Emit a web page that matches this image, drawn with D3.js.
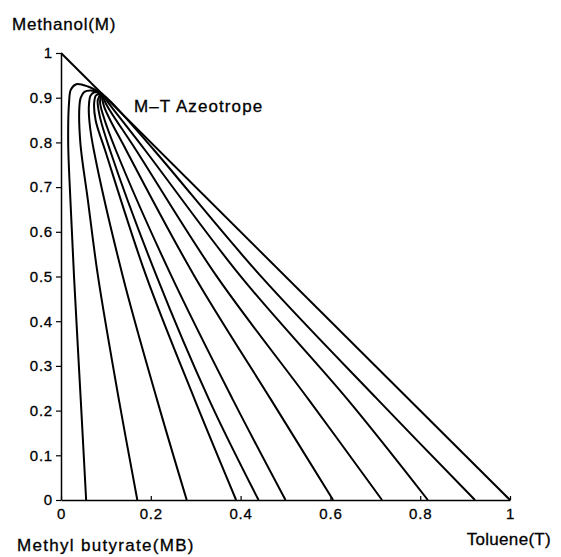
<!DOCTYPE html>
<html>
<head>
<meta charset="utf-8">
<script src="https://cdn.jsdelivr.net/npm/d3@7"></script>
<style>
  body { margin: 0; background: #fff; }
  svg text { font-family: "Liberation Sans", Arial, sans-serif; fill: #000; stroke: #000; stroke-width: 0.3px; }
</style>
</head>
<body>
<div id="chart"></div>
<script>
// tick values and labels
const xTicks = [0, 0.2, 0.4, 0.6, 0.8, 1];
const xTickLabels = ["0", "0.2", "0.4", "0.6", "0.8", "1"];
const yTicks = [0, 0.1, 0.2, 0.3, 0.4, 0.5, 0.6, 0.7, 0.8, 0.9, 1];
const yTickLabels = ["0", "0.1", "0.2", "0.3", "0.4", "0.5", "0.6", "0.7", "0.8", "0.9", "1"];

// residue curves, [toluene, methanol]
const curve1 = [[0.09, 0.91], [0.06, 0.925], [0.034, 0.93], [0.022, 0.918], [0.018, 0.89], [0.016, 0.80], [0.021, 0.67], [0.029, 0.50], [0.044, 0.224], [0.056, 0]];
const curve2 = [[0.09, 0.91], [0.066, 0.916], [0.052, 0.913], [0.044, 0.90], [0.041, 0.88], [0.043, 0.80], [0.060, 0.67], [0.082, 0.503], [0.129, 0.224], [0.17, 0]];
const curve3 = [[0.09, 0.91], [0.075, 0.912], [0.066, 0.905], [0.062, 0.88], [0.064, 0.84], [0.073, 0.783], [0.137, 0.503], [0.214, 0.224], [0.28, 0]];
const curve4 = [[0.09, 0.91], [0.078, 0.905], [0.074, 0.89], [0.077, 0.85], [0.098, 0.783], [0.189, 0.503], [0.298, 0.224], [0.39, 0]];
const curve5 = [[0.09, 0.91], [0.082, 0.895], [0.086, 0.86], [0.109, 0.783], [0.212, 0.503], [0.330, 0.224], [0.44, 0]];
const curve6 = [[0.09, 0.91], [0.087, 0.89], [0.094, 0.86], [0.122, 0.783], [0.245, 0.503], [0.383, 0.224], [0.50, 0]];
const curve7 = [[0.09, 0.91], [0.096, 0.88], [0.145, 0.783], [0.296, 0.503], [0.468, 0.224], [0.606, 0]];
const curve8 = [[0.09, 0.91], [0.101, 0.885], [0.167, 0.783], [0.345, 0.503], [0.552, 0.224], [0.715, 0]];
const curve9 = [[0.09, 0.91], [0.106, 0.888], [0.187, 0.783], [0.398, 0.503], [0.639, 0.224], [0.817, 0]];
const curve10 = [[0.09, 0.91], [0.112, 0.89], [0.207, 0.783], [0.443, 0.503], [0.706, 0.224], [0.922, 0]];
const curves = [curve1, curve2, curve3, curve4, curve5, curve6, curve7, curve8, curve9, curve10];

// M-T edge of the triangle
const edge = [[0, 1], [1, 0]];

const width = 561;
const height = 557;

var x = d3.scaleLinear().domain([0, 1]).range([61, 510]);
var y = d3.scaleLinear().domain([0, 1]).range([500, 53]);

var svg = d3
  .select("#chart")
  .append("svg")
  .attr("width", width)
  .attr("height", height);

// left axis, ticks outward
var yAxis = d3
  .axisLeft(y)
  .tickValues(yTicks)
  .tickFormat((d, i) => yTickLabels[i])
  .tickSizeInner(5)
  .tickSizeOuter(0)
  .tickPadding(3);

svg
  .append("g")
  .attr("transform", "translate(" + x(0) + ",0)")
  .call(yAxis)
  .call((g) => g.select(".domain").attr("stroke-width", 1.5))
  .call((g) => g.selectAll(".tick line").attr("stroke-width", 1.2))
  .call((g) =>
    g
      .selectAll(".tick text")
      .style("font-size", "15px")
      .style("letter-spacing", "0.8px")
  );

// bottom axis, ticks inward
var xAxis = d3
  .axisBottom(x)
  .tickValues(xTicks)
  .tickFormat((d, i) => xTickLabels[i])
  .tickSizeInner(-4)
  .tickSizeOuter(0)
  .tickPadding(8);

svg
  .append("g")
  .attr("transform", "translate(0," + y(0) + ")")
  .call(xAxis)
  .call((g) => g.select(".domain").attr("stroke-width", 1.5))
  .call((g) => g.selectAll(".tick line").attr("stroke-width", 1.2))
  .call((g) =>
    g
      .selectAll(".tick text")
      .style("font-size", "15px")
      .style("letter-spacing", "0.8px")
  );

var line = d3
  .line()
  .x((d) => x(d[0]))
  .y((d) => y(d[1]))
  .curve(d3.curveCatmullRom.alpha(0.5));

// hypotenuse
svg
  .append("path")
  .datum(edge)
  .attr("fill", "none")
  .attr("stroke", "#000")
  .attr("stroke-width", 2)
  .attr("d", d3.line().x((d) => x(d[0])).y((d) => y(d[1])));

// residue curves
svg
  .selectAll("path.curve")
  .data(curves)
  .enter()
  .append("path")
  .attr("class", "curve")
  .attr("fill", "none")
  .attr("stroke", "#000")
  .attr("stroke-width", 2)
  .attr("stroke-linejoin", "round")
  .attr("d", line);

// labels
svg
  .append("text")
  .attr("x", 12)
  .attr("y", 30)
  .style("font-size", "17px")
  .style("letter-spacing", "0.8px")
  .text("Methanol(M)");

svg
  .append("text")
  .attr("x", 17)
  .attr("y", 551)
  .style("font-size", "17px")
  .style("letter-spacing", "1.3px")
  .text("Methyl butyrate(MB)");

svg
  .append("text")
  .attr("x", 551)
  .attr("y", 545)
  .attr("text-anchor", "end")
  .style("font-size", "17px")
  .style("letter-spacing", "0.3px")
  .text("Toluene(T)");

svg
  .append("text")
  .attr("x", 134)
  .attr("y", 112)
  .style("font-size", "17px")
  .style("letter-spacing", "1.1px")
  .text("M\u2013T Azeotrope");
</script>
</body>
</html>
